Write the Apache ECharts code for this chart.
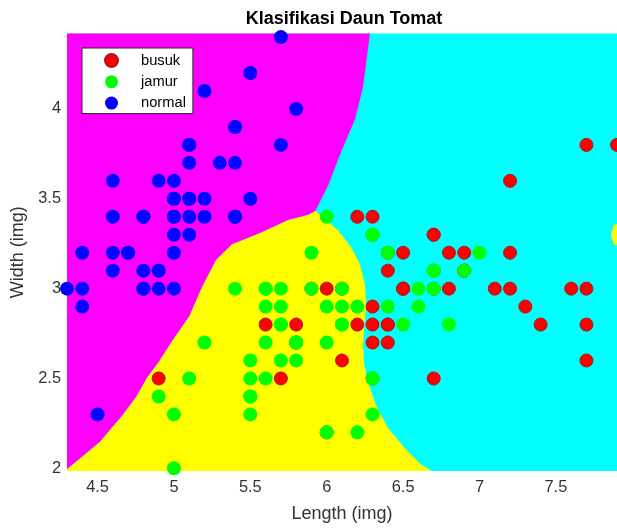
<!DOCTYPE html>
<html>
<head>
<meta charset="utf-8">
<script src="https://cdn.jsdelivr.net/npm/echarts@6/dist/echarts.min.js"></script>
<style>html,body{margin:0;padding:0;background:#fff}#c{width:617px;height:528px}</style>
</head>
<body>
<div id="c"></div>
<script>
// Class points [length, width]
const busuk = [[6.3,3.3],[5.8,2.7],[7.1,3.0],[6.3,2.9],[6.5,3.0],[7.6,3.0],[4.9,2.5],[7.3,2.9],[6.7,2.5],[7.2,3.6],[6.5,3.2],[6.4,2.7],[6.8,3.0],[5.7,2.5],[5.8,2.8],[6.4,3.2],[6.5,3.0],[7.7,3.8],[7.7,2.6],[6.0,2.2],[6.9,3.2],[5.6,2.8],[7.7,2.8],[6.3,2.7],[6.7,3.3],[7.2,3.2],[6.2,2.8],[6.1,3.0],[6.4,2.8],[7.2,3.0],[7.4,2.8],[7.9,3.8],[6.4,2.8],[6.3,2.8],[6.1,2.6],[7.7,3.0],[6.3,3.4],[6.4,3.1],[6.0,3.0],[6.9,3.1],[6.7,3.1],[6.9,3.1],[5.8,2.7],[6.8,3.2],[6.7,3.3],[6.7,3.0],[6.3,2.5],[6.5,3.0],[6.2,3.4],[5.9,3.0]];
const jamur = [[7.0,3.2],[6.4,3.2],[6.9,3.1],[5.5,2.3],[6.5,2.8],[5.7,2.8],[6.3,3.3],[4.9,2.4],[6.6,2.9],[5.2,2.7],[5.0,2.0],[5.9,3.0],[6.0,2.2],[6.1,2.9],[5.6,2.9],[6.7,3.1],[5.6,3.0],[5.8,2.7],[6.2,2.2],[5.6,2.5],[5.9,3.2],[6.1,2.8],[6.3,2.5],[6.1,2.8],[6.4,2.9],[6.6,3.0],[6.8,2.8],[6.7,3.0],[6.0,2.9],[5.7,2.6],[5.5,2.4],[5.5,2.4],[5.8,2.7],[6.0,2.7],[5.4,3.0],[6.0,3.4],[6.7,3.1],[6.3,2.3],[5.6,3.0],[5.5,2.5],[5.5,2.6],[6.1,3.0],[5.8,2.6],[5.0,2.3],[5.6,2.7],[5.7,3.0],[5.7,2.9],[6.2,2.9],[5.1,2.5],[5.7,2.8]];
const normal = [[5.1,3.5],[4.9,3.0],[4.7,3.2],[4.6,3.1],[5.0,3.6],[5.4,3.9],[4.6,3.4],[5.0,3.4],[4.4,2.9],[4.9,3.1],[5.4,3.7],[4.8,3.4],[4.8,3.0],[4.3,3.0],[5.8,4.0],[5.7,4.4],[5.4,3.9],[5.1,3.5],[5.7,3.8],[5.1,3.8],[5.4,3.4],[5.1,3.7],[4.6,3.6],[5.1,3.3],[4.8,3.4],[5.0,3.0],[5.0,3.4],[5.2,3.5],[5.2,3.4],[4.7,3.2],[4.8,3.1],[5.4,3.4],[5.2,4.1],[5.5,4.2],[4.9,3.1],[5.0,3.2],[5.5,3.5],[4.9,3.6],[4.4,3.0],[5.1,3.4],[5.0,3.5],[4.5,2.3],[4.4,3.2],[5.0,3.5],[5.1,3.8],[4.8,3.0],[5.1,3.8],[4.6,3.2],[5.3,3.7],[5.0,3.3]];

// Decision region boundaries (data coordinates)
const boundaryNormalBusuk = [[6.31,4.5],[6.283,4.42],[6.238,4.125],[6.186,3.944],[6.095,3.763],[6.010,3.576],[5.945,3.466]];
const boundaryNormalJamur = [[5.9255,3.4333],[5.880,3.411],[5.750,3.384],[5.555,3.307],[5.379,3.247],[5.275,3.159],[5.184,3.010],[5.100,2.846],[4.983,2.703],[4.905,2.599],[4.820,2.500],[4.755,2.401],[4.664,2.297],[4.515,2.148],[4.339,2.022],[4.300,1.996],[4.28,1.97]];
const boundaryJamurBusuk = [[5.9255,3.4333],[5.956,3.413],[6.075,3.323],[6.160,3.230],[6.216,3.138],[6.249,3.029],[6.259,2.901],[6.244,2.774],[6.238,2.681],[6.244,2.589],[6.270,2.479],[6.322,2.351],[6.400,2.225],[6.509,2.115],[6.615,2.022],[6.704,1.978],[6.72,1.9]];
const jamurEdgeIsland = [[7.96,3.375],[7.88,3.355],[7.86,3.30],[7.88,3.245],[7.96,3.225]];

const xTicks = [4.5,5,5.5,6,6.5,7,7.5];
const yTicks = [2,2.5,3,3.5,4];

const regionNormal = [[4.2,4.5]].concat(boundaryNormalBusuk, boundaryNormalJamur, [[4.2,1.9]]);
const regionJamur = [[4.2,1.9]].concat(boundaryNormalJamur.slice().reverse(), boundaryJamurBusuk, [[4.2,1.9]]);
const regions = [
  {poly: regionJamur, color: '#ffff00'},
  {poly: jamurEdgeIsland, color: '#ffff00'},
  {poly: regionNormal, color: '#ff00ff'}
];

const FONT = 'Liberation Sans';
const chart = echarts.init(document.getElementById('c'), null, {renderer: 'canvas'});
chart.setOption({
  animation: false,
  title: {
    text: 'Klasifikasi Daun Tomat', left: 344, top: 10, textAlign: 'center', padding: 0,
    textStyle: {fontFamily: FONT, fontSize: 18, fontWeight: 'bold', color: '#000'}
  },
  legend: {
    orient: 'vertical', left: 82, top: 48, padding: [5, 7, 3, 22], itemGap: 6.3,
    itemWidth: 13, itemHeight: 13, icon: 'circle',
    backgroundColor: '#fff', borderColor: '#262626', borderWidth: 1, borderRadius: 0,
    textStyle: {fontFamily: FONT, fontSize: 14.7, color: '#000', padding: [0, 0, 0, 18]},
    data: ['busuk', 'jamur', 'normal']
  },
  grid: {left: 67, top: 33.5, width: 553.7, height: 443.4, show: true, backgroundColor: '#00ffff', borderWidth: 0},
  xAxis: {
    type: 'value', min: 4.3, max: 7.9,
    name: 'Length (img)', nameLocation: 'middle', nameGap: 34,
    nameTextStyle: {fontFamily: FONT, fontSize: 18, color: '#333'},
    axisLine: {show: false}, axisTick: {show: false}, splitLine: {show: false},
    axisLabel: {customValues: xTicks, margin: 8, fontFamily: FONT, fontSize: 16.4, color: '#333'}
  },
  yAxis: {
    type: 'value', min: 1.985, max: 4.42,
    name: 'Width (img)', nameLocation: 'middle', nameGap: 29,
    nameTextStyle: {fontFamily: FONT, fontSize: 18, color: '#333'},
    axisLine: {show: false}, axisTick: {show: false}, splitLine: {show: false},
    axisLabel: {customValues: yTicks, margin: 6, fontFamily: FONT, fontSize: 16.4, color: '#333'}
  },
  series: [
    {
      type: 'custom', name: 'regions', silent: true, clip: true, z: 1,
      data: regions.map((r, i) => [5, 3, i]),
      renderItem: function (params, api) {
        const r = regions[api.value(2)];
        return {type: 'polygon', shape: {points: r.poly.map(p => api.coord(p))}, style: {fill: r.color}};
      }
    },
    {type: 'scatter', name: 'busuk', data: busuk, symbolSize: 13, clip: false, z: 3,
     itemStyle: {color: '#ff0000', borderColor: '#a41a1a', borderWidth: 1, opacity: 1}},
    {type: 'scatter', name: 'jamur', data: jamur, symbolSize: 14, clip: false, z: 4,
     itemStyle: {color: '#00ff00', opacity: 1}},
    {type: 'scatter', name: 'normal', data: normal, symbolSize: 14, clip: false, z: 5,
     itemStyle: {color: '#0000ff', opacity: 1}}
  ]
});
</script>
</body>
</html>
